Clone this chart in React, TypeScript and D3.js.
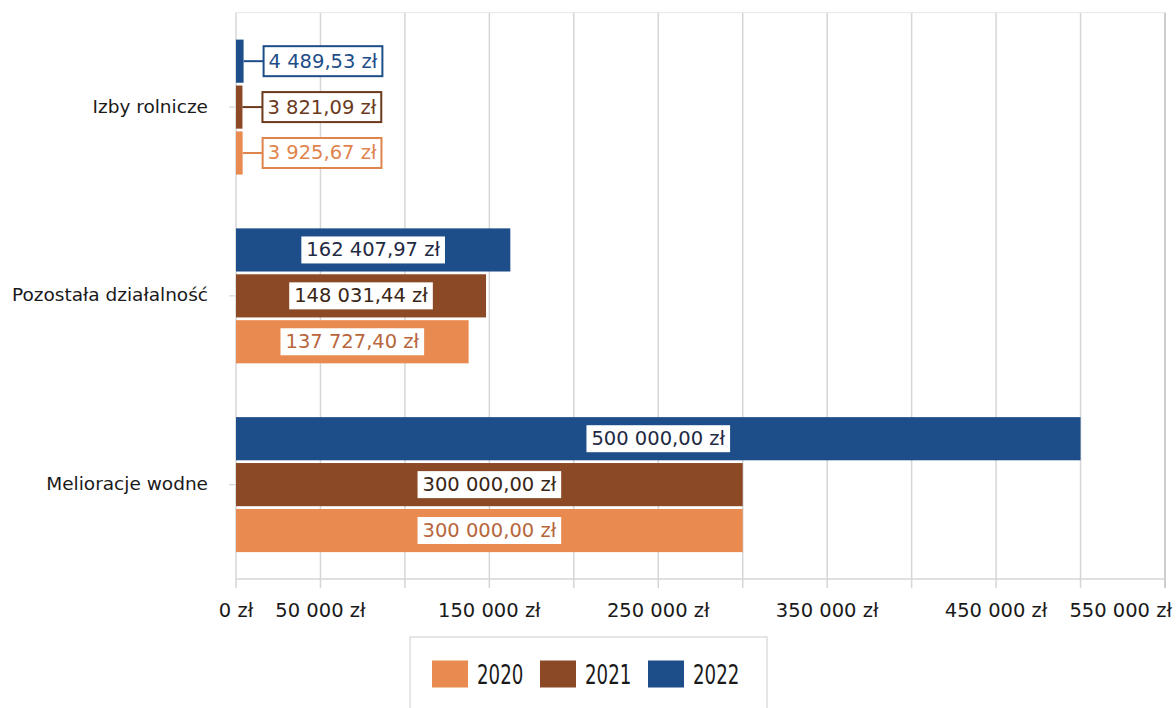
import React, { useEffect, useRef } from "react";
import * as d3 from "d3";

const categories = ["Izby rolnicze", "Pozostała działalność", "Melioracje wodne"];
const seriesNames = ["2020", "2021", "2022"];
const values2020 = [3925.67, 137727.4, 300000];
const values2021 = [3821.09, 148031.44, 300000];
const values2022 = [4489.53, 162407.97, 500000];
const gridTicks = [0, 50000, 100000, 150000, 200000, 250000, 300000, 350000, 400000, 450000, 500000, 550000];
const labeledTicks = [0, 50000, 150000, 250000, 350000, 450000, 550000];

const seriesValues: Record<string, number[]> = { "2020": values2020, "2021": values2021, "2022": values2022 };
const barColor: Record<string, string> = { "2020": "#e98b50", "2021": "#8b4a25", "2022": "#1d4e89" };
const insideText: Record<string, string> = { "2020": "#b8663c", "2021": "#3a2616", "2022": "#1f2a44" };
const outsideText: Record<string, string> = { "2020": "#e0844e", "2021": "#6b3a1d", "2022": "#1d4e89" };

const FONT = "'DejaVu Sans', sans-serif";

export default function App() {
  const ref = useRef<SVGSVGElement>(null);
  useEffect(() => {
    const svg = d3.select(ref.current);
    svg.selectAll("*").remove();
    const locale = d3.formatLocale({ decimal: ",", thousands: "\u00a0", grouping: [3], currency: ["", " zł"] });
    const fmtVal = locale.format(",.2f");
    const fmtTick = locale.format(",.0f");

    const x = d3.scaleLinear().domain([0, 550000]).range([236, 1165]);
    const y = d3.scaleBand<string>().domain(categories).range([12.7, 579]).paddingInner(0.285).paddingOuter(0.1425);
    const yi = d3.scaleBand<string>().domain(["2022", "2021", "2020"]).range([0, y.bandwidth()]).paddingInner(0.06);

    svg.append("line").attr("x1", 236).attr("x2", 1165).attr("y1", 12.7).attr("y2", 12.7)
      .attr("stroke", "#e8e8e8").attr("stroke-width", 1);

    svg.append("g").selectAll("line").data(gridTicks).join("line")
      .attr("x1", d => x(d)).attr("x2", d => x(d)).attr("y1", 12.7).attr("y2", 588)
      .attr("stroke", d => (d === 550000 ? "#bdbdbd" : "#d6d6d6")).attr("stroke-width", 1.5);
    svg.append("line").attr("x1", 236).attr("x2", 1165).attr("y1", 579).attr("y2", 579)
      .attr("stroke", "#d6d6d6").attr("stroke-width", 1.5);
    svg.append("g").selectAll("line").data(categories).join("line")
      .attr("x1", 229).attr("x2", 236)
      .attr("y1", d => (y(d) as number) + y.bandwidth() / 2).attr("y2", d => (y(d) as number) + y.bandwidth() / 2)
      .attr("stroke", "#d6d6d6").attr("stroke-width", 1.2);

    const tl = svg.append("g").selectAll("text").data(labeledTicks).join("text")
      .attr("x", d => x(d)).attr("y", 610).attr("dominant-baseline", "central")
      .attr("text-anchor", "middle").attr("font-family", FONT).attr("font-size", 19.5).attr("fill", "#1a1a1a")
      .text(d => fmtTick(d) + " zł");
    tl.each(function () {
      const node = this as SVGTextElement;
      const w = node.getComputedTextLength();
      const cx = +node.getAttribute("x")!;
      if (cx + w / 2 > 1172) {
        node.setAttribute("text-anchor", "end");
        node.setAttribute("x", "1172");
      }
    });

    svg.append("g").selectAll("text").data(categories).join("text")
      .attr("x", 208).attr("y", d => (y(d) as number) + y.bandwidth() / 2 - 1).attr("dominant-baseline", "central")
      .attr("text-anchor", "end").attr("font-family", FONT).attr("font-size", 18.5).attr("fill", "#1a1a1a")
      .text(d => d);

    const items: { cat: string; s: string; v: number }[] = [];
    categories.forEach((c, i) => seriesNames.forEach(s => items.push({ cat: c, s, v: seriesValues[s][i] })));
    svg.append("g").selectAll("rect").data(items).join("rect")
      .attr("x", x(0)).attr("y", d => (y(d.cat) as number) + (yi(d.s) as number))
      .attr("width", d => x(d.v) - x(0)).attr("height", yi.bandwidth())
      .attr("fill", d => barColor[d.s]);

    const lg = svg.append("g");
    items.forEach(d => {
      const yc = (y(d.cat) as number) + (yi(d.s) as number) + yi.bandwidth() / 2;
      const barW = x(d.v) - x(0);
      const g = lg.append("g");
      const t = g.append("text").attr("font-family", FONT).attr("font-size", 19.5)
        .attr("dominant-baseline", "central").text(fmtVal(d.v) + " zł");
      const tw = (t.node() as SVGTextElement).getComputedTextLength();
      if (barW > tw + 20) {
        const cx = x(0) + barW / 2;
        const bw = tw + 10;
        g.insert("rect", "text").attr("x", cx - bw / 2).attr("y", yc - 13.5).attr("width", bw).attr("height", 27)
          .attr("fill", "#ffffff");
        t.attr("x", cx).attr("y", yc).attr("text-anchor", "middle").attr("fill", insideText[d.s]);
      } else {
        const bx = x(d.v) + 20;
        const bw = tw + 10;
        g.insert("line", "text").attr("x1", x(d.v)).attr("x2", bx).attr("y1", yc).attr("y2", yc)
          .attr("stroke", outsideText[d.s]).attr("stroke-width", 2);
        g.insert("rect", "text").attr("x", bx).attr("y", yc - 15).attr("width", bw).attr("height", 30)
          .attr("fill", "#ffffff").attr("stroke", outsideText[d.s]).attr("stroke-width", 2);
        t.attr("x", bx + 5).attr("y", yc).attr("text-anchor", "start").attr("fill", outsideText[d.s]);
      }
    });

    const leg = svg.append("g");
    leg.append("rect").attr("x", 410).attr("y", 637).attr("width", 357).attr("height", 80)
      .attr("fill", "none").attr("stroke", "#d6d6d6").attr("stroke-width", 1.2);
    const legX = [432, 540, 648];
    seriesNames.forEach((s, i) => {
      leg.append("rect").attr("x", legX[i]).attr("y", 660.5).attr("width", 36).attr("height", 27).attr("fill", barColor[s]);
      leg.append("text").attr("transform", `translate(${legX[i] + 45},675) scale(0.7,1)`)
        .attr("dominant-baseline", "central").attr("font-family", FONT).attr("font-size", 26).attr("fill", "#1a1a1a")
        .text(s);
    });
  }, []);

  return (
    <svg ref={ref} width={1176} height={708}
      style={{ position: "absolute", left: 0, top: 0, background: "#ffffff" }} />
  );
}
